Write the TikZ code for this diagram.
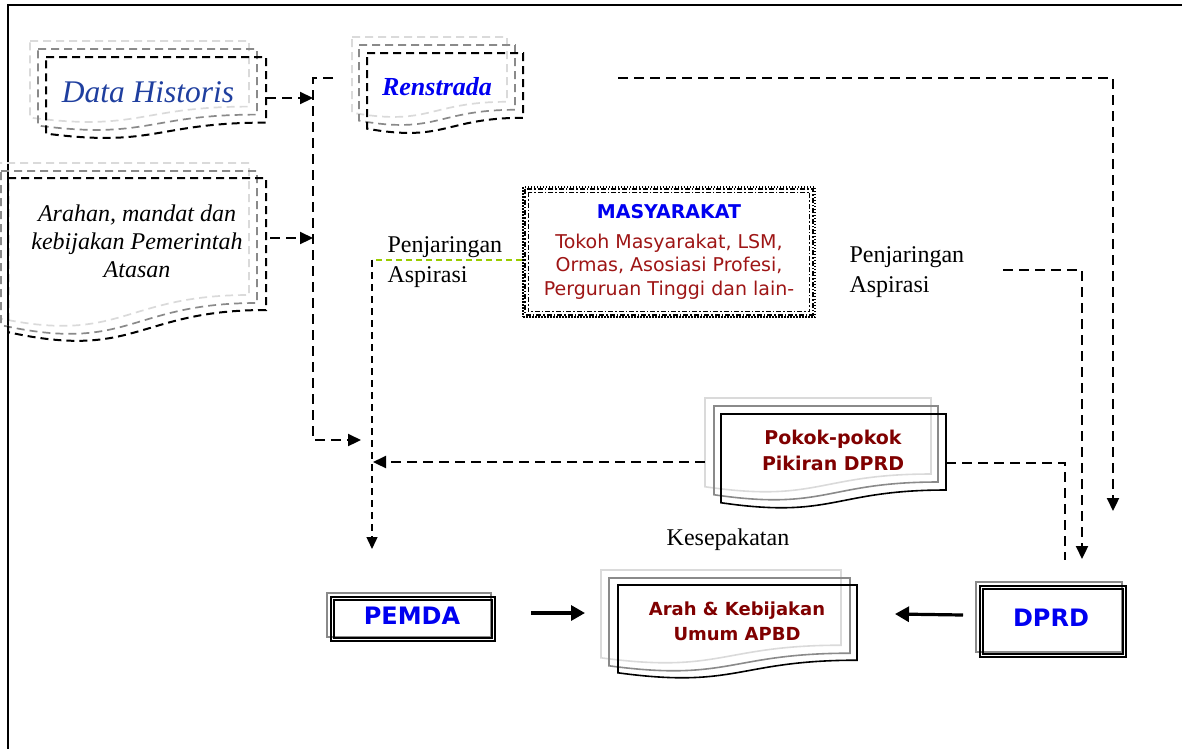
\documentclass[tikz,border=0pt]{standalone}
\usepackage{fontspec}
\setmainfont{Liberation Serif}
\newfontfamily\tahoma{DejaVu Sans}
\usetikzlibrary{arrows.meta}
\definecolor{histblue}{HTML}{1F3F9F}
\definecolor{pureblue}{HTML}{0000F0}
\definecolor{darkred}{HTML}{9E1515}
\definecolor{maroonred}{HTML}{800000}
\definecolor{lgray}{HTML}{DADADA}
\definecolor{mgray}{HTML}{8A8A8A}
\definecolor{aspgreen}{HTML}{99CC00}
\newcommand\docshape[5]{\draw[#1] (#2,#3) -- ({#2+#4},#3) -- ({#2+#4},{#3+0.8*#5}) .. controls ({#2+0.5*#4},{#3+0.8*#5}) and ({#2+0.5*#4},{#3+1.107*#5}) .. (#2,{#3+0.934*#5}) -- cycle;}
\begin{document}
\begin{tikzpicture}[x=1pt,y=-1pt,
  docdash/.style={dash pattern=on 8pt off 5pt, line width=2pt},
  blackdoc/.style={docdash, black},
  graydoc/.style={docdash, mgray, line width=1.7pt},
  lgraydoc/.style={docdash, lgray, line width=1.7pt},
  sblack/.style={black, line width=1.6pt},
  sgray/.style={mgray, line width=1.6pt},
  slgray/.style={lgray, line width=1.6pt},
  flow/.style={dash pattern=on 10pt off 6pt, line width=2.2pt},
  thinflow/.style={dash pattern=on 7pt off 5pt, line width=1.3pt},
  tip/.style={-{Triangle[length=13pt,width=12pt]}},
  bigtip/.style={line width=3.2pt, -{Triangle[length=14pt,width=15pt]}},
  serif/.style={font=\fontsize{24}{29.5}\selectfont},
  sansbig/.style={font=\tahoma\bfseries\fontsize{24}{28}\selectfont, text=pureblue},
  boxtxt/.style={font=\tahoma\bfseries\fontsize{19}{26}\selectfont, text=maroonred, align=center}
]
\useasboundingbox (0,0) rectangle (1182,748);
\clip (0,0) rectangle (1182,748);

% frame
\draw[line width=1.8pt] (8,760) -- (8,5) -- (1190,5);

% Data Historis
\docshape{lgraydoc}{30}{41}{219}{82}
\docshape{graydoc}{38}{49}{219}{82}
\docshape{blackdoc}{46}{57}{220}{82}
\node[font=\fontsize{31.5}{36}\selectfont\itshape, text=histblue] (hist) at (148,92) {Data Historis};

% Arahan
\docshape{lgraydoc}{-6}{163}{255}{165}
\docshape{graydoc}{1}{171}{256}{165}
\docshape{blackdoc}{8}{178}{258}{165}
\node[font=\itshape\fontsize{24}{28}\selectfont, align=center] (arahan) at (137,241) {Arahan, mandat dan\\kebijakan Pemerintah\\Atasan};

% Renstrada
\docshape{lgraydoc}{352}{37}{155}{81}
\docshape{graydoc}{359}{45}{156}{81}
\docshape{blackdoc}{367}{53}{156}{81}
\node[font=\bfseries\itshape\fontsize{26}{30}\selectfont, text=pureblue] (ren) at (437,87) {Renstrada};

% Masyarakat
\node[align=center, minimum width=292pt, minimum height=130pt, font=\tahoma\fontsize{19}{23.5}\selectfont, text=darkred,
      draw=black, line width=1.5pt, dash pattern=on 1.5pt off 1.5pt] (masy) at (669,252)
  {\textcolor{pureblue}{\bfseries MASYARAKAT}\\[6pt]Tokoh Masyarakat, LSM,\\Ormas, Asosiasi Profesi,\\Perguruan Tinggi dan lain-};
\draw[black, line width=2pt, dash pattern=on 5pt off 2pt on 1.5pt off 2pt] ([shift={(3,3)}]masy.north west) rectangle ([shift={(-3,-3)}]masy.south east);
\draw[black, line width=1.2pt, dash pattern=on 5pt off 2pt on 1.5pt off 2pt] ([shift={(6,6)}]masy.north west) rectangle ([shift={(-6,-6)}]masy.south east);

% Penjaringan labels
\node[serif, align=left, anchor=west] (pjL) at (384,262) {Penjaringan\\Aspirasi};
\node[serif, align=left, anchor=west] (pjR) at (846,272) {Penjaringan\\Aspirasi};

% Pokok-pokok
\docshape{slgray}{705}{398}{226}{95}
\docshape{sgray}{714}{406}{224}{95}
\docshape{sblack}{721}{414}{225}{95}
\node[boxtxt] (pokok) at (833,450) {Pokok-pokok\\Pikiran DPRD};

% Kesepakatan
\node[serif] (kes) at (728,540) {Kesepakatan};

% Arah & Kebijakan
\docshape{slgray}{601}{570}{240}{94}
\docshape{sgray}{609}{578}{241}{94}
\docshape{sblack}{618}{585}{239}{94}
\node[boxtxt, font=\tahoma\bfseries\fontsize{18}{25}\selectfont] (arah) at (737,621) {Arah \& Kebijakan\\Umum APBD};

% PEMDA
\node[sansbig] (pemda) at (412,616) {PEMDA};
\draw[mgray, line width=1.8pt] (327,593) rectangle (491,637);
\draw[black, line width=1.6pt] (331,597) rectangle (495,641);
\draw[black, line width=1.2pt] (334,600) rectangle (492,638);

% DPRD
\node[sansbig] (dprd) at (1051,618) {DPRD};
\draw[mgray, line width=1.8pt] (976,582) rectangle (1122,652);
\draw[black, line width=1.6pt] (980,586) rectangle (1126,657);
\draw[black, line width=1.2pt] (983,589) rectangle (1123,654);

% connector coordinates
\coordinate (histE) at (266,98);
\coordinate (trunkTop) at (333,78);
\coordinate (trunkC) at (313,78);
\coordinate (trunkH) at (313,98);
\coordinate (trunkA) at (313,238);
\coordinate (trunkB) at (313,440);
\coordinate (trunkEnd) at (361,440);
\coordinate (arahanE) at (270,238);
\coordinate (masyW) at (522,260);
\coordinate (aspCorner) at (372,260);
\coordinate (pemdaIn) at (372,549);
\coordinate (pokokW) at (705,462);
\coordinate (pokokIn) at (373,462);
\coordinate (pokokE) at (946,463);
\coordinate (pokokC) at (1065,463);
\coordinate (pokokEnd) at (1065,560);
\coordinate (renE) at (618,78);
\coordinate (renC) at (1113,78);
\coordinate (renEnd) at (1113,511);
\coordinate (aspR) at (1003,270);
\coordinate (aspRC) at (1082,270);
\coordinate (aspREnd) at (1082,559);
\coordinate (pemdaOut) at (531,613);
\coordinate (arahInL) at (585,613);
\coordinate (dprdOut) at (963,615);
\coordinate (arahInR) at (895,614);

% connectors
\draw[flow, tip] (histE) -- (trunkH);
\draw[flow, tip] (arahanE) -- (trunkA);
\draw[flow, tip] (trunkTop) -- (trunkC) -- (trunkB) -- (trunkEnd);
\draw[aspgreen, dash pattern=on 6pt off 4pt, line width=1.6pt] (masyW) -- (aspCorner);
\draw[thinflow, -{Triangle[length=12pt,width=11pt]}] (aspCorner) -- (pemdaIn);
\draw[flow, tip] (pokokW) -- (pokokIn);
\draw[flow] (pokokE) -- (pokokC) -- (pokokEnd);
\draw[flow, tip] (renE) -- (renC) -- (renEnd);
\draw[flow, tip] (aspR) -- (aspRC) -- (aspREnd);
\draw[bigtip] (pemdaOut) -- (arahInL);
\draw[bigtip] (dprdOut) -- (arahInR);
\end{tikzpicture}
\end{document}
